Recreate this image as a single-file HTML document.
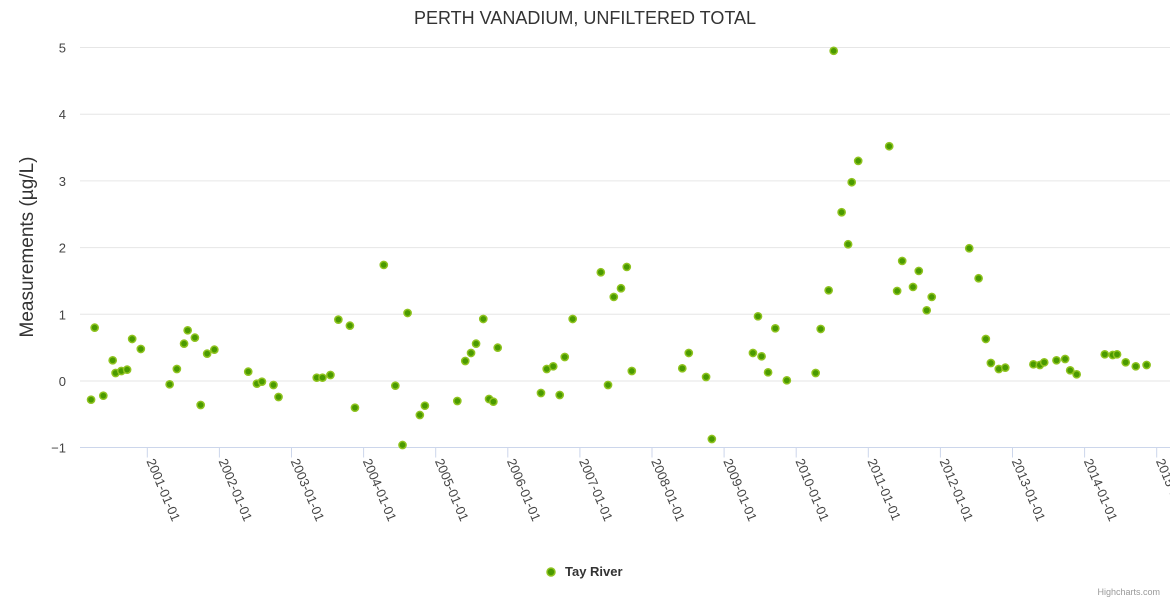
<!DOCTYPE html>
<html><head><meta charset="utf-8"><style>
body{margin:0;background:#fff;}
svg text{font-family:"Liberation Sans",sans-serif;}
</style></head><body>
<svg id="chart" width="1170" height="600">
<rect width="1170" height="600" fill="#fff"/>
<text x="585" y="24" text-anchor="middle" font-size="18" fill="#333">PERTH VANADIUM, UNFILTERED TOTAL</text>
<text transform="translate(33,247) rotate(-90)" text-anchor="middle" font-size="19" fill="#333">Measurements (µg/L)</text>
<g id="grid"></g><g id="xaxis"></g><g id="points"></g>
<g>
<circle cx="551" cy="572" r="4" fill="#4a9a00" stroke="#8fc31f" stroke-width="1.5"/>
<text x="565" y="576" font-size="13" font-weight="bold" fill="#333">Tay River</text></g>
<text x="1160" y="595" text-anchor="end" font-size="9" fill="#999">Highcharts.com</text>
</svg>
<script>
const yTicks=[-1,0,1,2,3,4,5];
const xTickYears=[2001,2002,2003,2004,2005,2006,2007,2008,2009,2010,2011,2012,2013,2014,2015];
const dates=[2000.22,2000.27,2000.39,2000.52,2000.56,2000.64,2000.72,2000.79,2000.91,2001.31,2001.41,2001.51,2001.56,2001.66,2001.74,2001.83,2001.93,2002.40,2002.52,2002.59,2002.75,2002.82,2003.35,2003.43,2003.54,2003.65,2003.81,2003.88,2004.28,2004.44,2004.54,2004.61,2004.78,2004.85,2005.30,2005.41,2005.49,2005.56,2005.66,2005.74,2005.80,2005.86,2006.46,2006.54,2006.63,2006.72,2006.79,2006.90,2007.29,2007.39,2007.47,2007.57,2007.65,2007.72,2008.42,2008.51,2008.75,2008.83,2009.40,2009.47,2009.52,2009.61,2009.71,2009.87,2010.27,2010.34,2010.45,2010.52,2010.63,2010.72,2010.77,2010.86,2011.29,2011.40,2011.47,2011.62,2011.70,2011.81,2011.88,2012.40,2012.53,2012.63,2012.70,2012.81,2012.90,2013.29,2013.38,2013.44,2013.61,2013.73,2013.80,2013.89,2014.28,2014.39,2014.45,2014.57,2014.71,2014.86];
const values=[-0.28,0.8,-0.22,0.31,0.12,0.15,0.17,0.63,0.48,-0.05,0.18,0.56,0.76,0.65,-0.36,0.41,0.47,0.14,-0.04,-0.01,-0.06,-0.24,0.05,0.05,0.09,0.92,0.83,-0.4,1.74,-0.07,-0.96,1.02,-0.51,-0.37,-0.3,0.3,0.42,0.56,0.93,-0.27,-0.31,0.5,-0.18,0.18,0.22,-0.21,0.36,0.93,1.63,-0.06,1.26,1.39,1.71,0.15,0.19,0.42,0.06,-0.87,0.42,0.97,0.37,0.13,0.79,0.01,0.12,0.78,1.36,4.95,2.53,2.05,2.98,3.3,3.52,1.35,1.8,1.41,1.65,1.06,1.26,1.99,1.54,0.63,0.27,0.18,0.2,0.25,0.24,0.28,0.31,0.33,0.16,0.1,0.4,0.39,0.4,0.28,0.22,0.24];
const NS='http://www.w3.org/2000/svg';
const X=y=>147.3+(y-2001)*72.1;
const Y=v=>381-v*66.7;
function mk(tag,attrs,parent){const e=document.createElementNS(NS,tag);for(const k in attrs)e.setAttribute(k,attrs[k]);parent.appendChild(e);return e;}
const grid=document.getElementById('grid');
yTicks.forEach(t=>{
 if(t>-1){const l=mk('line',{x1:80,x2:1170,y1:Y(t),y2:Y(t),stroke:'#e6e6e6'},grid);
 
 }
 const tx=mk('text',{x:66,y:Y(t)+5,'text-anchor':'end','font-size':'13',fill:'#444'},grid);
 tx.textContent=t<0?'\u2212'+Math.abs(t):String(t);
 
 
});
const xa=document.getElementById('xaxis');
const al=mk('line',{x1:80,x2:1170,y1:447.5,y2:447.5,stroke:'#ccd6eb'},xa);


xTickYears.forEach(yr=>{
 const x=X(yr);
 const tk=mk('line',{x1:x,x2:x,y1:447.5,y2:457.5,stroke:'#ccd6eb'},xa);
 
 
 const t=mk('text',{transform:`translate(${x-1},${461}) rotate(67)`,'font-size':'13',fill:'#444'},xa);
 t.textContent=yr+'-01-01';
 
 
});
const pg=document.getElementById('points');
dates.forEach((d,i)=>{
 const c=mk('circle',{cx:X(d),cy:Y(values[i]),r:3.6,fill:'#4a9a00',stroke:'#8fc31f','stroke-width':1.5},pg);
 
 
});
</script>
</body></html>
